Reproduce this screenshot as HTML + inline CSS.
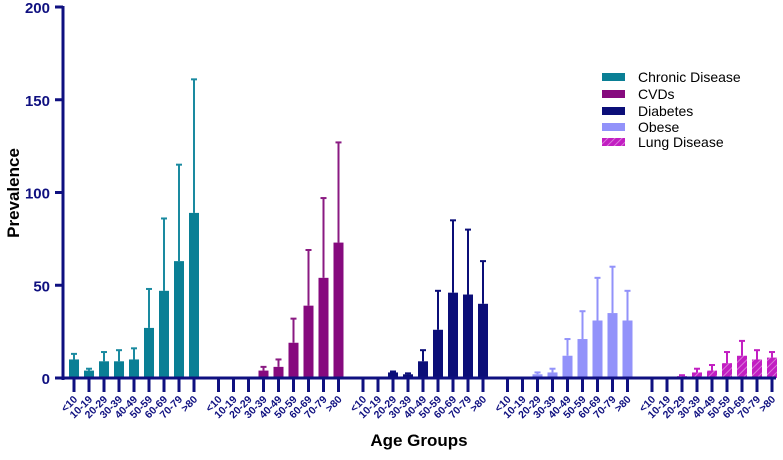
<!DOCTYPE html>
<html><head><meta charset="utf-8"><style>
body{margin:0;background:#fff}
svg{font-family:"Liberation Sans",sans-serif}
</style></head><body>
<svg id="chart" width="783" height="455" xmlns="http://www.w3.org/2000/svg">
<defs><pattern id="hatch" width="5" height="5" patternUnits="userSpaceOnUse" patternTransform="rotate(-45)"><rect width="5" height="5" fill="#c21ec2"/><line x1="0" y1="2.5" x2="5" y2="2.5" stroke="#e090e0" stroke-width="0.8"/></pattern></defs>
</svg>
<script>
const categories=["<10","10-19","20-29","30-39","40-49","50-59","60-69","70-79",">80"];
const seriesNames=["Chronic Disease","CVDs","Diabetes","Obese","Lung Disease"];
const chronicVals=[10,4,9,9,10,27,47,63,89];
const chronicErr=[13,5,14,15,16,48,86,115,161];
const cvdVals=[0,0,0,4,6,19,39,54,73];
const cvdErr=[0,0,0,6,10,32,69,97,127];
const diabVals=[0,0,3,2,9,26,46,45,40];
const diabErr=[0,0,3.5,2.5,15,47,85,80,63];
const obeseVals=[0,0,2,3,12,21,31,35,31];
const obeseErr=[0,0,3,5,21,36,54,60,47];
const lungVals=[0,0,1,3,4,8,12,10,11];
const lungErr=[0,0,1.5,5,7,14,20,15,14];
const yTicks=[0,50,100,150,200];
const colors=["#0a7f95","#860a7e","#0b0e78","#9292fa","url(#hatch)"];
const errColors=["#1a8aa0","#8a1a82","#0b0e78","#9292fa","#c21ec2"];
const vals=[chronicVals,cvdVals,diabVals,obeseVals,lungVals];
const errs=[chronicErr,cvdErr,diabErr,obeseErr,lungErr];
const NS="http://www.w3.org/2000/svg",svg=document.getElementById('chart');
const AX="#0f1080";
const y=v=>378-v*371/200;
const x=(g,i)=>74+g*144.5+i*15;
function mk(t,a,p){const e=document.createElementNS(NS,t);for(const k in a)e.setAttribute(k,a[k]);(p||svg).appendChild(e);return e;}
// bars
vals.forEach((s,g)=>{s.forEach((v,i)=>{
 if(errs[g][i]>v){
  const l=mk('line',{x1:x(g,i),x2:x(g,i),y1:y(v),y2:y(errs[g][i]),stroke:errColors[g],'stroke-width':2});
  
  
  const c=mk('line',{x1:x(g,i)-3,x2:x(g,i)+3,y1:y(errs[g][i]),y2:y(errs[g][i]),stroke:errColors[g],'stroke-width':2});
  
  
 }
 if(v>0){
  const r=mk('rect',{x:x(g,i)-5,y:y(v),width:10,height:y(0)-y(v),fill:colors[g]});
  
  
 }
});});
// axes
const ya=mk('line',{x1:63,x2:63,y1:6,y2:380,stroke:AX,'stroke-width':3});


const xa=mk('line',{x1:62,x2:776,y1:378,y2:378,stroke:AX,'stroke-width':3});


yTicks.forEach(t=>{
 mk('line',{x1:55,x2:63,y1:y(t),y2:y(t),stroke:AX,'stroke-width':3});
 const tx=mk('text',{x:50,y:y(t)+6,'text-anchor':'end','font-size':15,'font-weight':'bold',fill:AX});
 tx.textContent=t;
 
 
});
for(let g=0;g<5;g++)categories.forEach((c,i)=>{
 mk('line',{x1:x(g,i),x2:x(g,i),y1:378,y2:392,stroke:AX,'stroke-width':3});
 const tx=mk('text',{x:0,y:0,'text-anchor':'end','font-size':10.5,'font-weight':'bold',fill:AX,transform:`translate(${x(g,i)+4},${400}) rotate(-45)`});
 tx.textContent=c;
 
 
});
const xt=mk('text',{x:419,y:446,'text-anchor':'middle','font-size':17,'font-weight':'bold',fill:'#000'});
xt.textContent='Age Groups';


const yt=mk('text',{x:0,y:0,'text-anchor':'middle','font-size':17,'font-weight':'bold',fill:'#000',transform:'translate(19,193) rotate(-90)'});
yt.textContent='Prevalence';


// legend
const ly=[77,94,111,127,142];
seriesNames.forEach((n,k)=>{
 const r=mk('rect',{x:602,y:ly[k]-4,width:23,height:8,fill:colors[k]});
 
 
 const t=mk('text',{x:638,y:ly[k]+5,'font-size':14,fill:'#000'});
 t.textContent=n;
 
 
});
</script>
</body></html>
